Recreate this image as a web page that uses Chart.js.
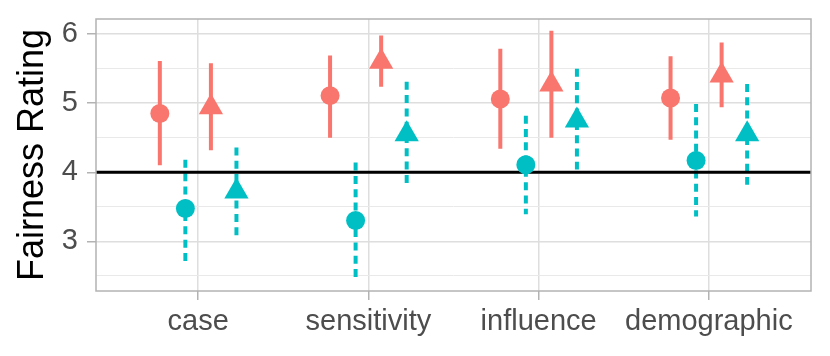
<!DOCTYPE html>
<html><head><meta charset="utf-8">
<script src="https://cdn.jsdelivr.net/npm/chart.js@4"></script>
<style>html,body{margin:0;padding:0;background:#fff}#wrap{width:830px;height:356px}</style>
</head><body><div id="wrap"><canvas id="c" width="830" height="356"></canvas></div>
<script>
// ---- data ----
const categories = ['case', 'sensitivity', 'influence', 'demographic'];

const redCircleMean = [4.85, 5.11, 5.06, 5.075];
const redCircleLow  = [4.10, 4.50, 4.34, 4.47];
const redCircleHigh = [5.61, 5.69, 5.79, 5.68];

const cyanCircleMean = [3.475, 3.30, 4.11, 4.17];
const cyanCircleLow  = [2.66, 2.47, 3.39, 3.36];
const cyanCircleHigh = [4.18, 4.14, 4.82, 4.99];

const redTriangleMean = [4.94, 5.60, 5.27, 5.40];
const redTriangleLow  = [4.32, 5.24, 4.50, 4.94];
const redTriangleHigh = [5.58, 5.98, 6.05, 5.88];

const cyanTriangleMean = [3.72, 4.55, 4.75, 4.55];
const cyanTriangleLow  = [3.03, 3.79, 4.04, 3.82];
const cyanTriangleHigh = [4.36, 5.31, 5.50, 5.28];

const yTickValues = [2.5, 3, 3.5, 4, 4.5, 5, 5.5, 6];
const yTickLabels = ['', '3', '', '4', '', '5', '', '6'];
const referenceLine = 4;
const yMin = 2.28, yMax = 6.22;

// ---- styling / layout ----
const RED = '#F8766D', CYAN = '#00BFC4';
const series = [
  { mean: redCircleMean,    low: redCircleLow,    high: redCircleHigh,    dx: -0.225, color: RED,  style: 'circle',   r: 9.5, dash: [] },
  { mean: cyanCircleMean,   low: cyanCircleLow,   high: cyanCircleHigh,   dx: -0.075, color: CYAN, style: 'circle',   r: 9.5, dash: [8, 5.3] },
  { mean: redTriangleMean,  low: redTriangleLow,  high: redTriangleHigh,  dx:  0.075, color: RED,  style: 'triangle', r: 14,  dash: [] },
  { mean: cyanTriangleMean, low: cyanTriangleLow, high: cyanTriangleHigh, dx:  0.225, color: CYAN, style: 'triangle', r: 14,  dash: [8, 5.3] }
];

const datasets = [];
series.forEach(s => {
  datasets.push({
    type: 'scatter',
    data: categories.map((c, i) => ({ x: i + 1 + s.dx, y: s.mean[i] })),
    pointStyle: s.style, pointRadius: s.r, pointHoverRadius: s.r,
    backgroundColor: s.color, borderColor: s.color, borderWidth: 0,
    order: 0
  });
  categories.forEach((c, i) => {
    datasets.push({
      type: 'line',
      data: [{ x: i + 1 + s.dx, y: s.high[i] }, { x: i + 1 + s.dx, y: s.low[i] }],
      borderColor: s.color, borderWidth: 4, borderDash: s.dash, borderCapStyle: 'butt',
      pointRadius: 0, fill: false, order: 2
    });
  });
});
datasets.push({
  type: 'line',
  data: [{ x: 0.4, y: referenceLine }, { x: 4.6, y: referenceLine }],
  borderColor: '#000', borderWidth: 3, pointRadius: 0, fill: false, order: 1
});

const FONT = '"Liberation Sans", Arial, Helvetica, sans-serif';

const panelBorder = {
  id: 'panelBorder',
  afterDatasetsDraw(chart) {
    const a = chart.chartArea, ctx = chart.ctx;
    ctx.save();
    ctx.strokeStyle = '#B3B3B3';
    ctx.lineWidth = 1.5;
    ctx.strokeRect(a.left, a.top, a.right - a.left, a.bottom - a.top);
    ctx.restore();
  }
};

new Chart(document.getElementById('c'), {
  type: 'scatter',
  data: { datasets },
  plugins: [panelBorder],
  options: {
    responsive: false, animation: false, devicePixelRatio: 1,
    layout: { padding: { left: 11, right: 19, top: 19, bottom: 0 } },
    plugins: { legend: { display: false }, tooltip: { enabled: false } },
    scales: {
      x: {
        type: 'linear', min: 0.4, max: 4.6,
        afterBuildTicks: sc => { sc.ticks = categories.map((c, i) => ({ value: i + 1 })); },
        afterFit: sc => { sc.height = 65; sc.paddingLeft = 0; sc.paddingRight = 0; },
        ticks: {
          autoSkip: false, maxRotation: 0, minRotation: 0, padding: 5,
          font: { family: FONT, size: 29 }, color: '#4D4D4D',
          callback: v => categories[Math.round(v) - 1]
        },
        grid: { color: '#DEDEDE', lineWidth: 1.5, tickLength: 9, tickColor: '#B3B3B3', tickWidth: 1.5 },
        border: { display: false }
      },
      y: {
        type: 'linear', min: yMin, max: yMax,
        afterBuildTicks: sc => { sc.ticks = yTickValues.map(v => ({ value: v })); },
        afterFit: sc => { sc.width = 85; sc.paddingTop = 0; sc.paddingBottom = 0; },
        ticks: {
          autoSkip: false, padding: 9,
          font: { family: FONT, size: 29 }, color: '#4D4D4D',
          callback: (v, i) => yTickLabels[yTickValues.indexOf(v)]
        },
        grid: {
          color: ctx => Number.isInteger(ctx.tick.value) ? '#DEDEDE' : '#E9E9E9',
          lineWidth: ctx => Number.isInteger(ctx.tick.value) ? 1.5 : 1,
          tickLength: 9,
          tickColor: ctx => Number.isInteger(ctx.tick.value) ? '#B3B3B3' : 'rgba(0,0,0,0)',
          tickWidth: 1.5
        },
        border: { display: false },
        title: { display: true, text: 'Fairness Rating', color: '#000', font: { family: FONT, size: 36 }, padding: 0 }
      }
    }
  }
});
</script>
</body></html>
